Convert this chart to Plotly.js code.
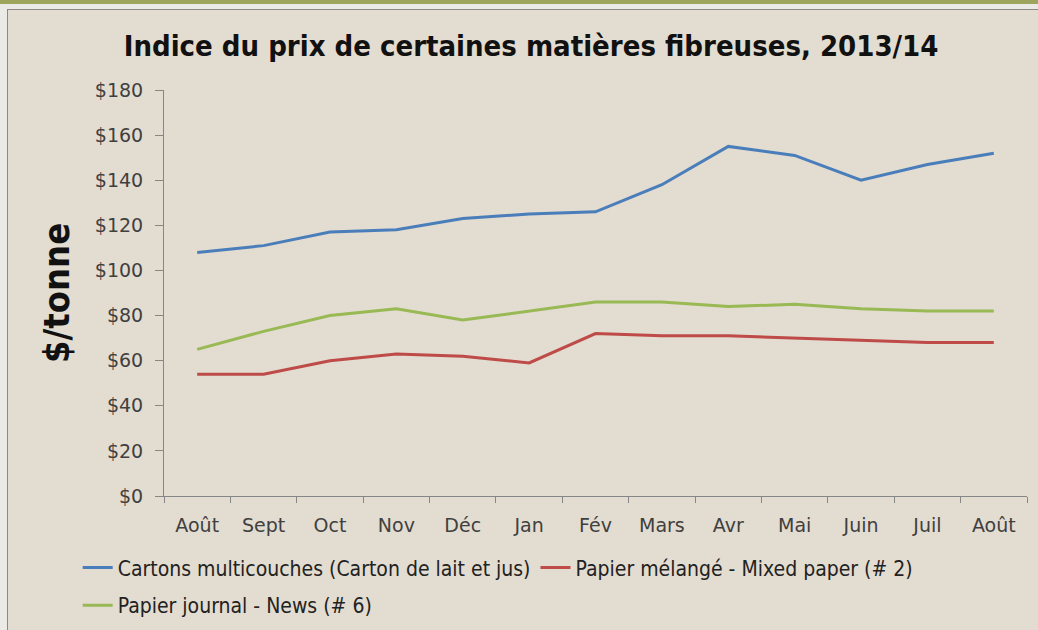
<!DOCTYPE html>
<html>
<head>
<meta charset="utf-8">
<script src="https://cdn.plot.ly/plotly-3.0.1.min.js"></script>
<style>
  html, body { margin: 0; padding: 0; }
  body { width: 1038px; height: 630px; position: relative; overflow: hidden; background: #eceae6; }
  #band { position: absolute; left: 0; top: 0; width: 1038px; height: 4px; background: #9ea55c; }
  #panel { position: absolute; left: 7px; top: 9px; width: 1031px; height: 621px; background: #e3dcd0;
           border-left: 1px solid #8d8883; border-top: 1px solid #8d8883; box-sizing: border-box; }
  #chart { position: absolute; left: 0; top: 0; width: 1038px; height: 630px; }
</style>
</head>
<body>
<div id="band"></div>
<div id="panel"></div>
<div id="chart"></div>
<script>
const categories = ["Août", "Sept", "Oct", "Nov", "Déc", "Jan", "Fév", "Mars", "Avr", "Mai", "Juin", "Juil", "Août"];
const cartons = [108, 111, 117, 118, 123, 125, 126, 138, 155, 151, 140, 147, 152];
const papierMelange = [54, 54, 60, 63, 62, 59, 72, 71, 71, 70, 69, 68, 68];
const papierJournal = [65, 73, 80, 83, 78, 82, 86, 86, 84, 85, 83, 82, 82];
const seriesNames = ["Cartons multicouches (Carton de lait et jus)", "Papier mélangé - Mixed paper (# 2)", "Papier journal - News (# 6)"];
const yTickVals = [0, 20, 40, 60, 80, 100, 120, 140, 160, 180];
const yTickText = yTickVals.map(v => "$" + v);

const xIdx = categories.map((c, i) => i);

const traces = [
  { x: xIdx, y: cartons, name: seriesNames[0], type: "scatter", mode: "lines",
    line: { color: "#4a7ebb", width: 3 }, legend: "legend" },
  { x: xIdx, y: papierMelange, name: seriesNames[1], type: "scatter", mode: "lines",
    line: { color: "#be4b48", width: 3 }, legend: "legend" },
  { x: xIdx, y: papierJournal, name: seriesNames[2], type: "scatter", mode: "lines",
    line: { color: "#98b954", width: 3 }, legend: "legend2" }
];

const tickFont = { family: "DejaVu Sans", size: 19, color: "#404040" };
const legFont = { family: "DejaVu Sans Condensed", size: 21, color: "#222222" };

const layout = {
  width: 1038, height: 630,
  paper_bgcolor: "rgba(0,0,0,0)", plot_bgcolor: "rgba(0,0,0,0)",
  margin: { l: 164, r: 11, t: 90, b: 134, autoexpand: false },
  title: { text: "<b>Indice du prix de certaines matières fibreuses, 2013/14</b>",
           font: { family: "DejaVu Sans Condensed", size: 29, color: "#111111" },
           x: 0.5116, xref: "container", xanchor: "center", y: 0.928, yref: "container", yanchor: "middle" },
  xaxis: {
    range: [-0.5, 12.5], tickmode: "array", tickvals: xIdx, ticktext: categories,
    showgrid: false, zeroline: false, showline: true, linecolor: "#868686", linewidth: 1,
    ticks: "", tickfont: tickFont, ticklabelstandoff: 12, automargin: false,
    minor: { tickmode: "linear", tick0: -0.5, dtick: 1, ticks: "outside", ticklen: 6, tickcolor: "#868686", showgrid: false }
  },
  yaxis: {
    range: [0, 180], tickmode: "array", tickvals: yTickVals, ticktext: yTickText,
    showgrid: false, zeroline: false, showline: true, linecolor: "#868686", linewidth: 1,
    ticks: "outside", ticklen: 8, tickcolor: "#868686", tickfont: tickFont, ticklabelstandoff: 8, automargin: false,
    title: { text: "<b>$/tonne</b>", font: { family: "DejaVu Sans Condensed", size: 36, color: "#111111" }, standoff: 14 }
  },
  showlegend: true,
  legend: { orientation: "h", x: -0.1, xanchor: "left", y: -0.177, yanchor: "middle",
            font: legFont, bgcolor: "rgba(0,0,0,0)", itemclick: false },
  legend2: { orientation: "h", x: -0.1, xanchor: "left", y: -0.27, yanchor: "middle",
             font: legFont, bgcolor: "rgba(0,0,0,0)", itemclick: false }
};

Plotly.newPlot("chart", traces, layout, { displayModeBar: false, staticPlot: true });
</script>
</body>
</html>
